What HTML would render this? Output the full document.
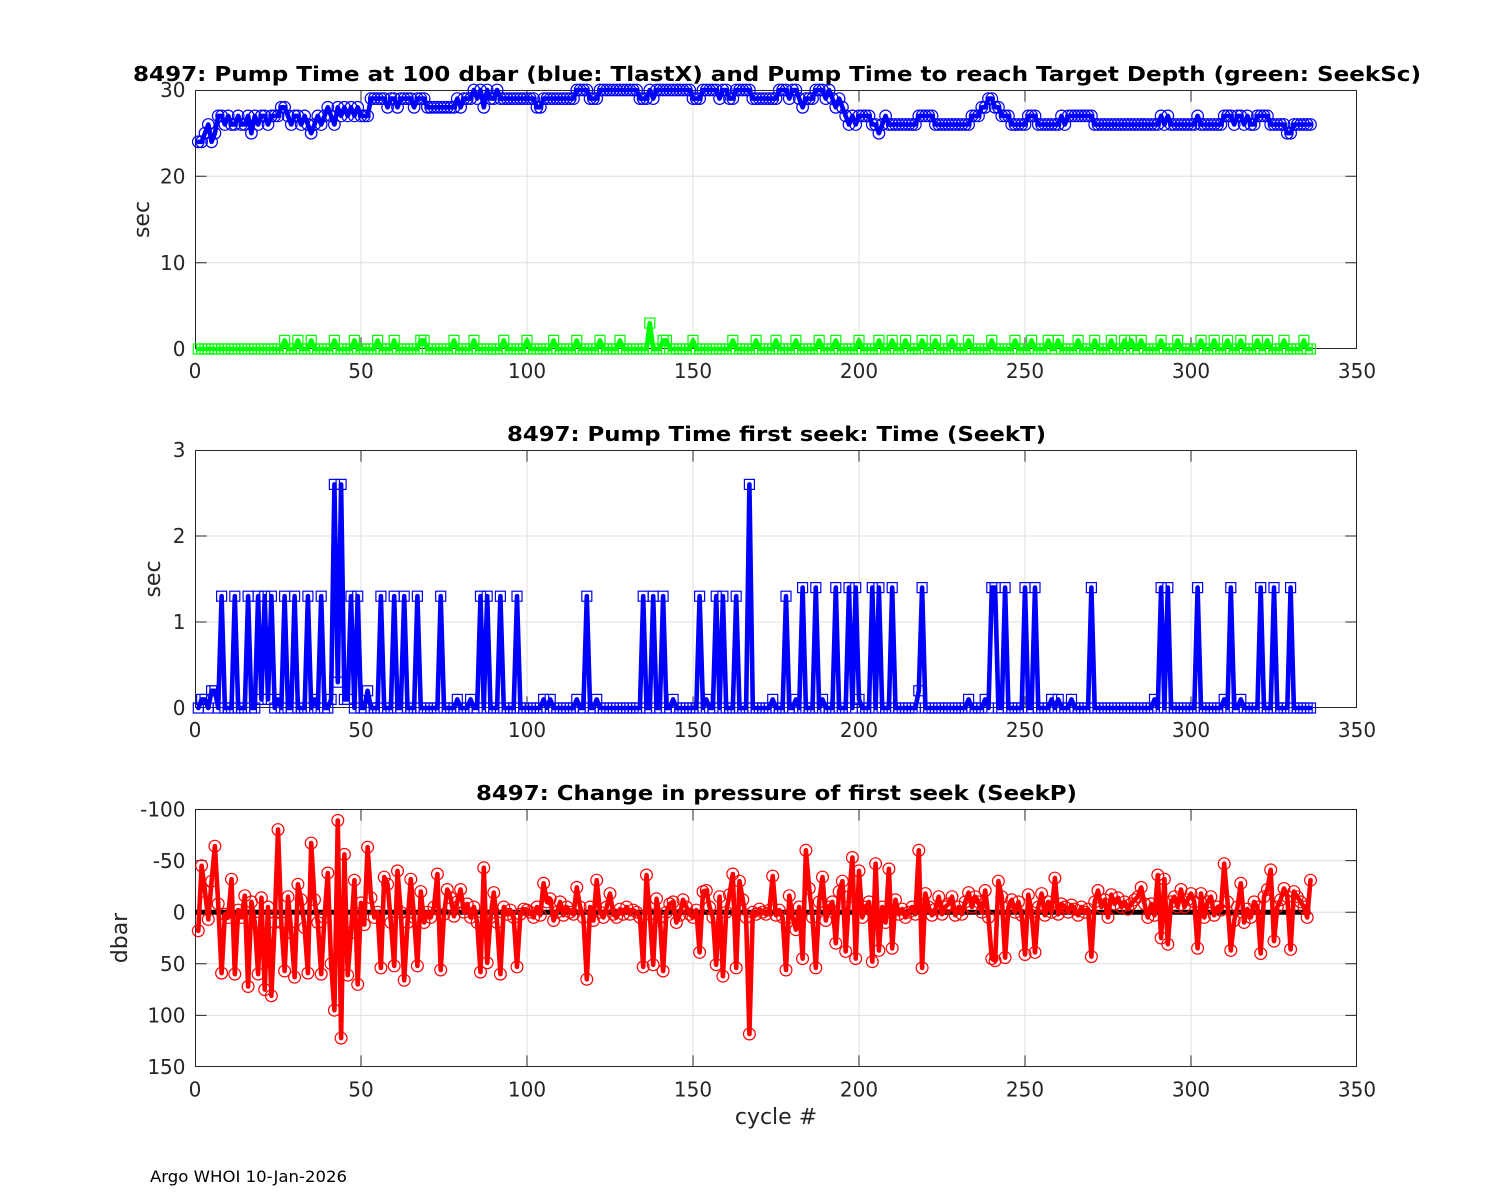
<!DOCTYPE html>
<html><head><meta charset="utf-8">
<style>
html,body{margin:0;padding:0;background:#fff;}
svg{display:block;}
text{font-family:"DejaVu Sans","Liberation Sans",sans-serif;}
.tk{font-size:20px;fill:#262626;}
.lb{font-size:22px;fill:#262626;}
.tt{font-size:20px;font-weight:bold;fill:#000;}
</style></head>
<body>
<svg id="s" width="1500" height="1200" viewBox="0 0 1500 1200" xmlns="http://www.w3.org/2000/svg">
<rect x="0" y="0" width="1500" height="1200" fill="#fff"/>

<!-- ============ PLOT 1 ============ -->
<rect x="195" y="90" width="1162" height="259" fill="#fff"/>
<g stroke="#dfdfdf" stroke-width="1">
<line x1="361" y1="90" x2="361" y2="349"/><line x1="527" y1="90" x2="527" y2="349"/>
<line x1="693" y1="90" x2="693" y2="349"/><line x1="859" y1="90" x2="859" y2="349"/>
<line x1="1025" y1="90" x2="1025" y2="349"/><line x1="1191" y1="90" x2="1191" y2="349"/>
<line x1="195" y1="262.7" x2="1357" y2="262.7"/><line x1="195" y1="176.3" x2="1357" y2="176.3"/>
</g>
<g stroke="#262626" stroke-width="1" fill="none">
<rect x="195.5" y="90.5" width="1161" height="258"/>
<path d="M361 349v-11.6M527 349v-11.6M693 349v-11.6M859 349v-11.6M1025 349v-11.6M1191 349v-11.6
M361 90v11.6M527 90v11.6M693 90v11.6M859 90v11.6M1025 90v11.6M1191 90v11.6
M195 262.7h11.6M195 176.3h11.6M1357 262.7h-11.6M1357 176.3h-11.6"/>
</g>
<g class="tk" text-anchor="middle">
<text x="195" y="378" class="tk">0</text><text x="361" y="378" class="tk">50</text>
<text x="527" y="378" class="tk">100</text><text x="693" y="378" class="tk">150</text>
<text x="859" y="378" class="tk">200</text><text x="1025" y="378" class="tk">250</text>
<text x="1191" y="378" class="tk">300</text><text x="1357" y="378" class="tk">350</text>
</g>
<g text-anchor="end">
<text x="185.5" y="356" class="tk">0</text><text x="185.5" y="270" class="tk">10</text>
<text x="185.5" y="183.5" class="tk">20</text><text x="185.5" y="97" class="tk">30</text>
</g>
<text class="lb" text-anchor="middle" transform="translate(149,219.5) rotate(-90)">sec</text>
<text class="tt" x="133" y="81" textLength="1288" lengthAdjust="spacingAndGlyphs">8497:  Pump Time at 100 dbar (blue: TlastX) and Pump Time to reach Target Depth (green: SeekSc)</text>
<g id="d1"></g>

<!-- ============ PLOT 2 ============ -->
<rect x="195" y="450" width="1162" height="258" fill="#fff"/>
<g stroke="#dfdfdf" stroke-width="1">
<line x1="361" y1="450" x2="361" y2="708"/><line x1="527" y1="450" x2="527" y2="708"/>
<line x1="693" y1="450" x2="693" y2="708"/><line x1="859" y1="450" x2="859" y2="708"/>
<line x1="1025" y1="450" x2="1025" y2="708"/><line x1="1191" y1="450" x2="1191" y2="708"/>
<line x1="195" y1="622" x2="1357" y2="622"/><line x1="195" y1="536" x2="1357" y2="536"/>
</g>
<g stroke="#262626" stroke-width="1" fill="none">
<rect x="195.5" y="450.5" width="1161" height="257"/>
<path d="M361 708v-11.6M527 708v-11.6M693 708v-11.6M859 708v-11.6M1025 708v-11.6M1191 708v-11.6
M361 450v11.6M527 450v11.6M693 450v11.6M859 450v11.6M1025 450v11.6M1191 450v11.6
M195 622h11.6M195 536h11.6M1357 622h-11.6M1357 536h-11.6"/>
</g>
<g text-anchor="middle">
<text x="195" y="737" class="tk">0</text><text x="361" y="737" class="tk">50</text>
<text x="527" y="737" class="tk">100</text><text x="693" y="737" class="tk">150</text>
<text x="859" y="737" class="tk">200</text><text x="1025" y="737" class="tk">250</text>
<text x="1191" y="737" class="tk">300</text><text x="1357" y="737" class="tk">350</text>
</g>
<g text-anchor="end">
<text x="185.5" y="715" class="tk">0</text><text x="185.5" y="629" class="tk">1</text>
<text x="185.5" y="543" class="tk">2</text><text x="185.5" y="457" class="tk">3</text>
</g>
<text class="lb" text-anchor="middle" transform="translate(160,579) rotate(-90)">sec</text>
<text class="tt" x="507" y="441" textLength="539" lengthAdjust="spacingAndGlyphs">8497: Pump Time first seek: Time (SeekT)</text>
<g id="d2"></g>

<!-- ============ PLOT 3 ============ -->
<rect x="195" y="809" width="1162" height="258" fill="#fff"/>
<g stroke="#dfdfdf" stroke-width="1">
<line x1="361" y1="809" x2="361" y2="1067"/><line x1="527" y1="809" x2="527" y2="1067"/>
<line x1="693" y1="809" x2="693" y2="1067"/><line x1="859" y1="809" x2="859" y2="1067"/>
<line x1="1025" y1="809" x2="1025" y2="1067"/><line x1="1191" y1="809" x2="1191" y2="1067"/>
<line x1="195" y1="860.6" x2="1357" y2="860.6"/><line x1="195" y1="912.2" x2="1357" y2="912.2"/>
<line x1="195" y1="963.8" x2="1357" y2="963.8"/><line x1="195" y1="1015.4" x2="1357" y2="1015.4"/>
</g>
<g stroke="#262626" stroke-width="1" fill="none">
<rect x="195.5" y="809.5" width="1161" height="257"/>
<path d="M361 1067v-11.6M527 1067v-11.6M693 1067v-11.6M859 1067v-11.6M1025 1067v-11.6M1191 1067v-11.6
M361 809v11.6M527 809v11.6M693 809v11.6M859 809v11.6M1025 809v11.6M1191 809v11.6
M195 860.6h11.6M195 912.2h11.6M195 963.8h11.6M195 1015.4h11.6
M1357 860.6h-11.6M1357 912.2h-11.6M1357 963.8h-11.6M1357 1015.4h-11.6"/>
</g>
<g text-anchor="middle">
<text x="195" y="1096.5" class="tk">0</text><text x="361" y="1096.5" class="tk">50</text>
<text x="527" y="1096.5" class="tk">100</text><text x="693" y="1096.5" class="tk">150</text>
<text x="859" y="1096.5" class="tk">200</text><text x="1025" y="1096.5" class="tk">250</text>
<text x="1191" y="1096.5" class="tk">300</text><text x="1357" y="1096.5" class="tk">350</text>
</g>
<g text-anchor="end">
<text x="185.5" y="816.5" class="tk">-100</text><text x="185.5" y="868" class="tk">-50</text>
<text x="185.5" y="919.5" class="tk">0</text><text x="185.5" y="971" class="tk">50</text>
<text x="185.5" y="1022.5" class="tk">100</text><text x="185.5" y="1074" class="tk">150</text>
</g>
<text class="lb" text-anchor="middle" transform="translate(127,938) rotate(-90)">dbar</text>
<text class="lb" x="776" y="1124" text-anchor="middle">cycle #</text>
<text class="tt" x="476" y="800" textLength="601" lengthAdjust="spacingAndGlyphs">8497: Change in pressure of first seek (SeekP)</text>
<g id="d3"></g>

<text x="150" y="1182" style="font-size:16px;fill:#000;" textLength="197" lengthAdjust="spacingAndGlyphs">Argo WHOI 10-Jan-2026</text>
</svg>

<script>
(function(){
var N=336;
function X(c){return 195+c*3.32;}
function line(pts,col,w){
  var s='';for(var i=0;i<pts.length;i++){s+=pts[i][0].toFixed(1)+','+pts[i][1].toFixed(1)+' ';}
  return '<polyline points="'+s+'" fill="none" stroke="'+col+'" stroke-width="'+w+'" stroke-linejoin="round" stroke-linecap="round"/>';
}
function circ(pts,col,r){
  var s='';for(var i=0;i<pts.length;i++){s+='<circle cx="'+pts[i][0].toFixed(1)+'" cy="'+pts[i][1].toFixed(1)+'" r="'+r+'"/>';}
  return '<g fill="none" stroke="'+col+'" stroke-width="1.2">'+s+'</g>';
}
function sq(pts,col,a){
  var s='',h=a/2;for(var i=0;i<pts.length;i++){s+='<rect x="'+(pts[i][0]-h).toFixed(1)+'" y="'+(pts[i][1]-h).toFixed(1)+'" width="'+a+'" height="'+a+'"/>';}
  return '<g fill="none" stroke="'+col+'" stroke-width="1.2">'+s+'</g>';
}

/* ---------- Plot 1 blue TlastX ---------- */
var T=[];
var first=[24,24,25,26,24,25,27,27,26,27,26,26,27,26,26,27,25,27,26,27,27,26,27,27,27,28,28,27,26,27,27,26,27,26,25,26,27,26,27,28,27,26,28,27,28,27,28,27,28,27,27,27];
for(var i=0;i<first.length;i++)T[i+1]=first[i];
var runs=[[53,57,29],[58,58,28],[59,60,29],[61,61,28],[62,65,29],[66,66,28],[67,69,29],[70,78,28],[79,79,29],[80,80,28],[81,83,29],[84,84,30],[85,85,29],[86,86,30],[87,87,28],[88,88,30],[89,90,29],[91,91,30],[92,102,29],[103,104,28],[105,114,29],[115,118,30],[119,121,29],[122,133,30],[134,136,29],[137,137,30],[138,138,29],[139,149,30],[150,152,29],[153,157,30],[158,158,29],[159,160,30],[161,162,29],[163,167,30],[168,175,29],[176,178,30],[179,179,29],[180,181,30],[182,182,29],[183,183,28],[184,186,29],[187,189,30],[190,190,29],[191,191,30],[192,192,29],[193,193,28],[194,194,29],[195,195,28],[196,196,27],[197,197,26],[198,198,27],[199,199,26],[200,203,27],[204,205,26],[206,206,25],[207,207,26],[208,208,27],[209,217,26],[218,222,27],[223,233,26],[234,236,27],[237,238,28],[239,240,29],[241,242,28],[243,245,27],[246,250,26],[251,253,27],[254,260,26],[261,261,27],[262,262,26],[263,270,27],[271,290,26],[291,291,27],[292,292,26],[293,293,27],[294,301,26],[302,302,27],[303,309,26],[310,312,27],[313,313,26],[314,315,27],[316,316,26],[317,317,27],[318,319,26],[320,323,27],[324,328,26],[329,330,25],[331,336,26]];
for(var r=0;r<runs.length;r++){for(var c=runs[r][0];c<=runs[r][1];c++)T[c]=runs[r][2];}
var G=[];for(var c=1;c<=N;c++)G[c]=0;
[27,31,35,42,48,55,60,68,69,78,84,93,100,108,115,122,128,141,142,150,162,169,175,181,188,193,200,206,210,214,219,223,228,233,240,247,252,257,260,266,271,276,280,282,285,291,296,303,307,311,315,320,323,328,334].forEach(function(k){G[k]=1;});
G[137]=3;
function Y1(v){return 349-v*8.6333;}
var pb=[],pg=[];
for(var c=1;c<=N;c++){pb.push([X(c),Y1(T[c])]);pg.push([X(c),Y1(G[c])]);}
document.getElementById('d1').innerHTML=line(pg,'#00ff00',4.6)+sq(pg,'#00ff00',10)+line(pb,'#0000ff',4.6)+circ(pb,'#0000ff',5.8);

/* ---------- Plot 2 SeekT ---------- */
var S=[];for(var c=1;c<=N;c++)S[c]=0;
[8,12,16,19,21,23,27,30,34,38,47,49,56,60,63,67,74,86,88,92,97,118,135,138,141,152,157,159,163,178].forEach(function(k){S[k]=1.3;});
[42,44,167].forEach(function(k){S[k]=2.6;});
[183,187,193,197,199,204,206,210,219,240,241,244,250,253,270,291,293,302,312,321,325,330].forEach(function(k){S[k]=1.4;});
var sm={2:0.1,3:0.1,5:0.2,6:0.2,20:0.1,22:0.1,25:0.1,36:0.1,41:0.1,43:0.3,45:0.1,46:0.1,52:0.2,79:0.1,83:0.1,105:0.1,107:0.1,115:0.1,121:0.1,144:0.1,154:0.1,174:0.1,181:0.1,189:0.1,200:0.1,218:0.2,233:0.1,238:0.1,258:0.1,260:0.1,264:0.1,289:0.1,310:0.1,315:0.1};
for(var k in sm){S[+k]=sm[k];}
function Y2(v){return 708-v*86;}
var ps=[];for(var c=1;c<=N;c++)ps.push([X(c),Y2(S[c])]);
document.getElementById('d2').innerHTML=line(ps,'#0000ff',4.6)+sq(ps,'#0000ff',10);

/* ---------- Plot 3 SeekP ---------- */
var P=[0,18,-45,-20,7,-30,-64,-8,59,2,5,-32,60,-2,5,-16,72,-10,10,60,-14,75,-5,81,10,-80,10,57,-15,20,63,-27,-12,15,59,-67,-12,10,60,5,-38,50,95,-89,122,-56,61,20,-31,70,-9,12,-63,-14,5,0,54,-34,-27,10,52,-40,0,66,10,-32,5,52,-20,10,0,5,-5,-37,56,2,-22,-14,4,-10,-22,0,-8,5,-5,10,58,-43,49,5,-19,10,60,-5,2,-2,5,53,2,-3,-2,0,5,-5,3,-28,-10,-13,8,0,-10,3,-5,0,2,-24,-5,5,65,
-5,8,-31,0,5,-5,-18,2,5,-3,2,-5,2,-2,0,5,53,-36,2,51,-13,5,57,0,-8,-10,10,3,-12,-5,2,5,-2,39,-20,-21,-5,5,51,-15,62,0,-17,-37,54,-30,-12,5,118,0,2,-3,0,2,-2,-35,3,-2,5,56,-16,5,17,-5,45,-60,-23,5,54,-10,-34,8,-5,-10,30,-20,-30,38,-15,-53,45,-40,5,-5,-10,48,-47,37,-5,10,-42,35,-12,2,-3,5,0,-5,2,-60,54,-18,-5,3,-3,-15,2,-5,-8,-15,3,-5,2,-10,-19,
-5,-15,-10,0,-21,5,45,47,-30,-15,44,-5,-12,0,-10,3,41,-17,0,39,-5,-18,3,-10,0,-33,2,-8,-5,0,-7,-3,3,-5,0,-3,43,-10,-21,-5,-12,5,-17,-8,-14,-5,-10,-3,-8,-12,-15,-24,-8,5,-8,3,-36,25,-32,31,-10,-15,-5,-22,-5,-12,-18,-10,35,-18,5,-10,-15,3,-5,-2,-47,-10,37,8,-5,-28,10,-3,5,-10,-5,40,-15,-22,-41,28,-5,-12,-23,-15,36,-20,-15,-10,-5,5,-31];
function Y3(v){return 912.2+v*1.032;}
var pr=[];for(var c=1;c<=N&&c<P.length;c++)pr.push([X(c),Y3(P[c])]);
var blk='<line x1="'+X(0)+'" y1="912.2" x2="'+X(N)+'" y2="912.2" stroke="#000" stroke-width="5"/>';
document.getElementById('d3').innerHTML=blk+line(pr,'#ff0000',4.6)+circ(pr,'#ff0000',5.9);
})();
</script>
</body></html>
